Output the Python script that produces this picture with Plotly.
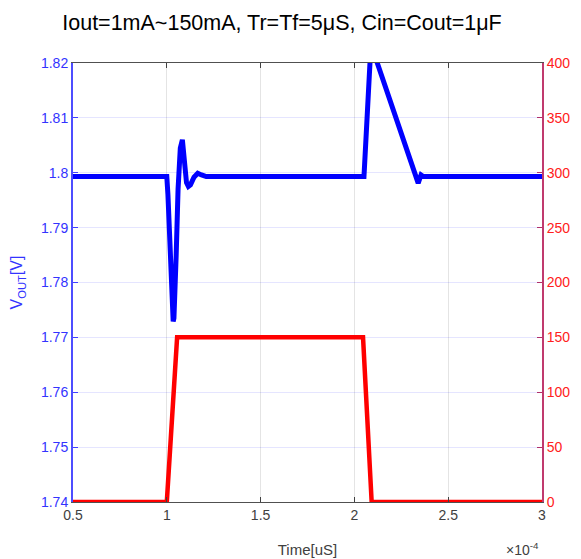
import plotly.graph_objects as go

# Time axis in units of 1e4 (as displayed, "x10^-4")
vout_t = [0.5, 1.0, 1.006, 1.014, 1.022, 1.029, 1.034, 1.038, 1.043, 1.05,
          1.06, 1.072, 1.083, 1.093, 1.105, 1.115, 1.126, 1.145, 1.165, 1.185,
          1.21, 1.24, 2.051, 2.083, 2.095, 2.122, 2.34, 2.355, 2.367, 3.0]
vout_v = [1.7993, 1.7993, 1.796, 1.789, 1.780, 1.7745, 1.7729, 1.7735, 1.777,
          1.785, 1.797, 1.8045, 1.806, 1.802, 1.7982, 1.7975, 1.7978, 1.7992,
          1.7999, 1.7996, 1.7993, 1.7993, 1.7993, 1.82, 1.8225, 1.82, 1.7981,
          1.7996, 1.7993, 1.7993]

iout_t = [0.5, 1.0, 1.055, 2.046, 2.092, 3.0]
iout_ma = [0, 0, 150, 150, 0, 0]

x_ticks = [0.5, 1, 1.5, 2, 2.5, 3]
x_labels = ["0.5", "1", "1.5", "2", "2.5", "3"]
y1_ticks = [1.74, 1.75, 1.76, 1.77, 1.78, 1.79, 1.80, 1.81, 1.82]
y1_labels = ["1.74", "1.75", "1.76", "1.77", "1.78", "1.79", "1.8", "1.81", "1.82"]
y2_ticks = [0, 50, 100, 150, 200, 250, 300, 350, 400]
y2_labels = [str(v) for v in y2_ticks]

FONT = "Liberation Sans"
BLUE = "#0000ff"
RED = "#ff0000"

fig = go.Figure()
fig.add_trace(go.Scatter(x=vout_t, y=vout_v, mode="lines",
                         line=dict(color=BLUE, width=5), yaxis="y"))
fig.add_trace(go.Scatter(x=iout_t, y=iout_ma, mode="lines",
                         line=dict(color=RED, width=4.5), yaxis="y2"))

fig.update_layout(
    width=581, height=559,
    margin=dict(l=73, r=39, t=63, b=57),
    paper_bgcolor="white", plot_bgcolor="white",
    showlegend=False,
    font=dict(family=FONT, size=14),
    title=dict(text="Iout=1mA~150mA, Tr=Tf=5\u03bcS, Cin=Cout=1\u03bcF",
               x=282 / 581, xanchor="center", y=1 - 22 / 559, yanchor="middle",
               font=dict(family=FONT, size=21.5, color="black")),
    xaxis=dict(range=[0.5, 3], tickvals=x_ticks, ticktext=x_labels,
               ticks="inside", ticklen=5, tickcolor="#404040",
               showline=True, linecolor="#505050", linewidth=1, mirror="ticks",
               showgrid=True, gridcolor="#e4e4e4", zeroline=False,
               automargin=False,
               tickfont=dict(color="#404040", size=14),
               title=dict(text="Time[uS]", font=dict(color="#404040", size=15),
                          standoff=22)),
    yaxis=dict(range=[1.74, 1.82], tickvals=y1_ticks, ticktext=y1_labels,
               ticks="inside", ticklen=5, tickcolor="#4040ff",
               showline=True, linecolor="#4d4dff", linewidth=2,
               showgrid=True, gridcolor="rgba(0,0,255,0.10)", zeroline=False,
               automargin=False,
               tickfont=dict(color="#3333ff", size=14),
               title=dict(text="V<sub>OUT</sub>[V]",
                          font=dict(color="#3333ff", size=16), standoff=14)),
    yaxis2=dict(range=[0, 400], tickvals=y2_ticks, ticktext=y2_labels,
                overlaying="y", side="right",
                ticks="inside", ticklen=5, tickcolor="#b0306a",
                showline=True, linecolor="#c03a6e", linewidth=2,
                showgrid=False, zeroline=False, automargin=False,
                tickfont=dict(color="#ff2020", size=14)),
)

fig.add_annotation(text="\u00d710<sup>-4</sup>", xref="paper", yref="paper",
                   x=(522 - 73) / 469, y=-(549 - 502) / 439,
                   xanchor="center", yanchor="middle", showarrow=False,
                   font=dict(family=FONT, size=14, color="#404040"))

fig.write_html("out.html",
               config={"displayModeBar": False},
               post_script="document.body.style.margin='0';"
                           "document.body.style.padding='0';")
